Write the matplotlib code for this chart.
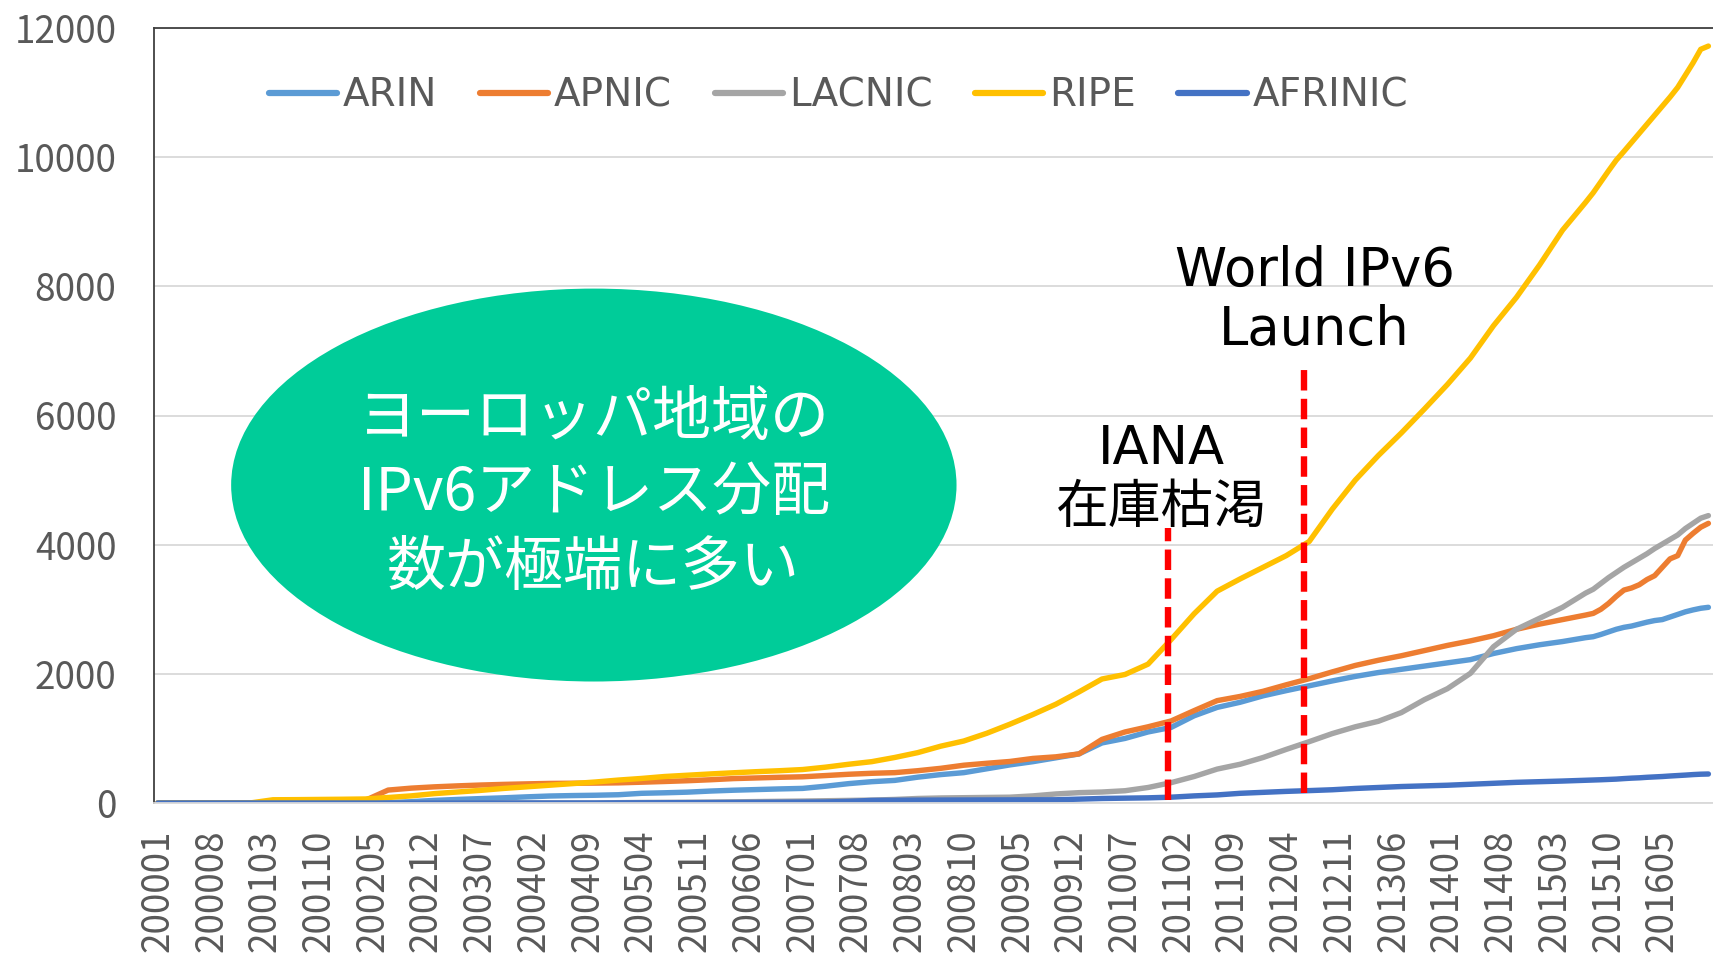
import matplotlib
matplotlib.use("Agg")
import matplotlib.pyplot as plt
from matplotlib.patches import Ellipse

plt.rcParams['font.family'] = ['Noto Sans CJK JP', 'DejaVu Sans']
LATIN_FIRST = ['DejaVu Sans', 'Noto Sans CJK JP']

# ---- category axis: monthly labels 200001 .. 201611 ----
years = list(range(2000, 2017))
month_labels = [f"{y}{m:02d}" for y in years for m in range(1, 13)][:203]

sample_months = [
    "200001", "200004", "200007", "200010", "200101", "200104", "200107", "200110",
    "200201", "200204", "200207", "200210", "200301", "200304", "200307", "200310",
    "200401", "200404", "200407", "200410", "200501", "200504", "200507", "200510",
    "200601", "200604", "200607", "200610", "200701", "200704", "200707", "200710",
    "200801", "200804", "200807", "200810", "200901", "200904", "200907", "200910",
    "201001", "201004", "201007", "201010", "201101", "201104", "201107", "201110",
    "201201", "201204", "201207", "201210", "201301", "201304", "201307", "201310",
    "201401", "201404", "201407", "201410", "201501", "201504", "201507",
    "201508", "201509", "201510", "201511", "201512", "201601", "201602", "201603",
    "201604", "201605", "201606", "201607", "201608", "201609", "201610", "201611",
]

arin = [0, 0, 0, 0, 0, 0, 0, 0, 0, 0, 5, 20, 40, 55, 68, 80, 95, 108, 115, 120,
        128, 150, 158, 168, 185, 198, 208, 218, 226, 260, 300, 330, 350, 400, 440, 470,
        530, 590, 640, 700, 760, 930, 1000, 1100, 1170, 1350, 1480, 1560, 1660, 1740,
        1815, 1890, 1960, 2020, 2070, 2120, 2170, 2220, 2315, 2390, 2450, 2500, 2560,
        2575, 2610, 2650, 2690, 2720, 2740, 2770, 2800, 2825, 2840, 2880, 2920, 2960,
        2990, 3015, 3030]

apnic = [0, 0, 0, 0, 0, 0, 0, 0, 0, 40, 200, 230, 250, 265, 278, 288, 296, 303, 306, 308,
         312, 322, 333, 345, 360, 378, 388, 398, 406, 425, 445, 460, 470, 500, 537, 585,
         615, 643, 690, 715, 760, 985, 1100, 1180, 1270, 1430, 1585, 1650, 1730, 1830,
         1925, 2030, 2130, 2210, 2280, 2360, 2440, 2510, 2590, 2690, 2770, 2840, 2910,
         2936, 3000, 3091, 3200, 3297, 3330, 3380, 3460, 3520, 3650, 3780, 3830, 4071,
         4175, 4270, 4330]

lacnic = [0, 0, 0, 0, 0, 0, 0, 0, 0, 0, 0, 0, 0, 0, 0, 0, 0, 0, 0, 0,
          5, 8, 10, 12, 15, 18, 22, 26, 30, 35, 40, 45, 55, 70, 78, 82,
          86, 90, 110, 140, 160, 170, 190, 240, 315, 410, 525, 600, 705, 830,
          950, 1075, 1180, 1265, 1400, 1600, 1770, 2008, 2420, 2690, 2860, 3030, 3250,
          3310, 3400, 3490, 3570, 3650, 3720, 3790, 3860, 3940, 4010, 4080, 4150, 4250,
          4330, 4410, 4450]

ripe = [0, 0, 0, 0, 0, 50, 52, 55, 58, 62, 85, 110, 145, 170, 195, 225, 250, 275, 300, 325,
        355, 380, 410, 430, 450, 468, 485, 500, 518, 555, 600, 640, 705, 780, 880, 960,
        1080, 1220, 1370, 1530, 1720, 1920, 1990, 2150, 2530, 2930, 3280, 3470, 3650, 3830,
        4050, 4550, 5000, 5380, 5730, 6100, 6480, 6890, 7390, 7830, 8330, 8870, 9300,
        9450, 9620, 9790, 9954, 10090, 10230, 10370, 10510, 10650, 10790, 10930, 11080, 11270,
        11460, 11670, 11720]

afrinic = [0, 0, 0, 0, 0, 0, 0, 0, 0, 0, 0, 0, 0, 0, 0, 0, 0, 0, 0, 0,
           2, 3, 4, 5, 6, 8, 10, 12, 14, 16, 25, 40, 42, 44, 45, 46,
           47, 48, 49, 50, 60, 70, 75, 80, 90, 110, 125, 150, 165, 180,
           192, 205, 225, 240, 255, 265, 275, 290, 305, 320, 330, 340, 352,
           356, 360, 365, 370, 378, 385, 390, 398, 404, 410, 418, 425, 432,
           440, 446, 449]

series_names = ["ARIN", "APNIC", "LACNIC", "RIPE", "AFRINIC"]
series_values = [arin, apnic, lacnic, ripe, afrinic]
series_colors = ["#5B9BD5", "#ED7D31", "#A5A5A5", "#FFC000", "#4472C4"]

# event markers (month position, bottom/top of dashed line, label)
event_pos = [131.6, 149.3]
event_bottom = [40, 150]
event_top = [4260, 6800]
event_text = ["IANA\n在庫枯渇", "World IPv6\nLaunch"]
event_text_pos = [(130.7, 5030), (150.7, 7780)]

callout_text = "ヨーロッパ地域の\nIPv6アドレス分配\n数が極端に多い"

# ---- figure ----
fig = plt.figure(figsize=(17.13, 9.56), dpi=100)
ax = fig.add_axes([154 / 1713, 153 / 956, 1 - 154 / 1713, 775 / 956])

xs = [month_labels.index(s) for s in sample_months]
for name, vals, col in zip(series_names, series_values, series_colors):
    ax.plot(xs, vals, color=col, lw=3.9, label=name, solid_joinstyle='round',
            solid_capstyle='round')

ax.set_xlim(-0.5, 202.6)
ax.set_ylim(0, 12000)
ax.set_yticks(range(0, 12001, 2000))
tick_idx = list(range(0, len(month_labels), 7))
ax.set_xticks(tick_idx)
ax.set_xticklabels([month_labels[i] for i in tick_idx], rotation=90)
ax.tick_params(axis='y', length=0, pad=27, labelsize=26.5, labelcolor='#595959')
ax.tick_params(axis='x', length=0, pad=19, labelsize=26.5, labelcolor='#595959')

ax.grid(axis='y', color='#D9D9D9', lw=1.3)
ax.set_axisbelow(True)
for s in ['left', 'top']:
    ax.spines[s].set_color('#404040')
    ax.spines[s].set_linewidth(1.3)
ax.spines['right'].set_visible(False)
ax.spines['bottom'].set_color('#D9D9D9')
ax.spines['bottom'].set_linewidth(1.3)

# event lines and labels
for xpos, y0, y1, txt, (tx, ty) in zip(event_pos, event_bottom, event_top, event_text, event_text_pos):
    ax.plot([xpos, xpos], [y0, y1], color='#FF0000', lw=4.6, dashes=(3.2, 1.3), zorder=6)
    ax.text(tx, ty, txt, ha='center', va='center', multialignment='center',
            fontsize=38, color='black', linespacing=1.17, zorder=7, family=LATIN_FIRST)

# callout ellipse
ell = Ellipse((56.8, 4923), width=94.5, height=6084, facecolor='#00CC99',
              edgecolor='none', zorder=5)
ax.add_patch(ell)
ax.text(56.8, 4790, callout_text, ha='center', va='center', multialignment='center',
        fontsize=42.5, color='white', linespacing=1.3, zorder=6)

leg = ax.legend(ncol=5, loc='center', bbox_to_anchor=(0.4895, 0.9005),
                bbox_transform=fig.transFigure, frameon=False,
                prop={'family': LATIN_FIRST, 'size': 28},
                handlelength=1.75, handletextpad=0.15, columnspacing=1.1,
                labelcolor='#595959')
for line in leg.get_lines():
    line.set_linewidth(4.5)

fig.savefig("out.png", dpi=100)
